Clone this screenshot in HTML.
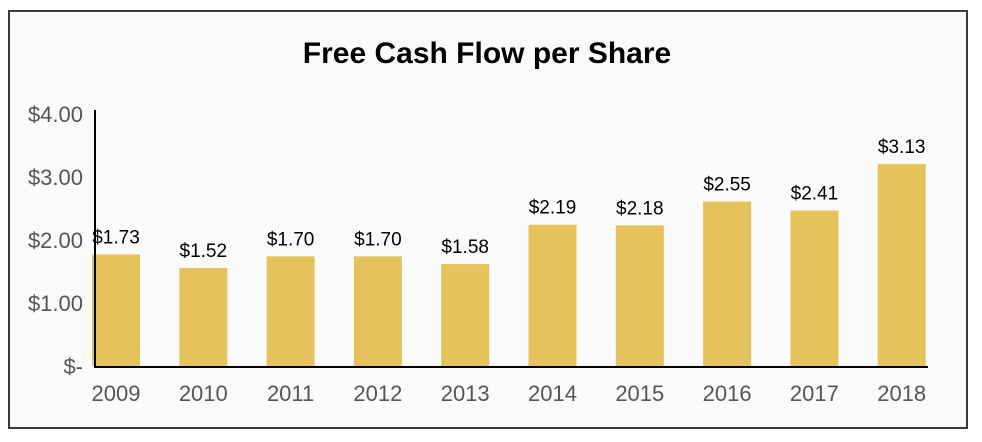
<!DOCTYPE html>
<html><head><meta charset="utf-8"><style>
html,body{margin:0;padding:0;background:#fff;}
svg{display:block;font-family:"Liberation Sans",Arial,sans-serif;}
</style></head><body>
<svg id="chart" width="982" height="442" viewBox="0 0 982 442">
<rect x="9" y="11" width="958" height="417" fill="#fafafa" stroke="#3a3a3a" stroke-width="2"/>
<text x="487" y="63" text-anchor="middle" font-size="30" font-weight="bold" fill="#000">Free Cash Flow per Share</text>
<g id="bars"></g>
<g id="yticks"></g>
<g id="xticks"></g>
<line x1="95" y1="110" x2="95" y2="367" stroke="#000" stroke-width="2"/>
<line x1="94" y1="367" x2="928" y2="367" stroke="#000" stroke-width="2"/>
</svg>
<script>
const categories=["2009","2010","2011","2012","2013","2014","2015","2016","2017","2018"];
const values=[1.73,1.52,1.70,1.70,1.58,2.19,2.18,2.55,2.41,3.13];
const valueLabels=["$1.73","$1.52","$1.70","$1.70","$1.58","$2.19","$2.18","$2.55","$2.41","$3.13"];
const tickValues=[0,1,2,3,4];
const tickLabels=["$-","$1.00","$2.00","$3.00","$4.00"];
const NS="http://www.w3.org/2000/svg";
const y0=366, unit=64.5, x0=92, step=87.3, bw=48;
function y(v){return y0-v*unit;}
function xl(i){return x0+i*step;}
function mk(tag,attrs,parent){const e=document.createElementNS(NS,tag);for(const k in attrs)e.setAttribute(k,attrs[k]);parent.appendChild(e);return e;}
const bars=document.getElementById('bars'),yt=document.getElementById('yticks'),xt=document.getElementById('xticks');
values.forEach((v,i)=>{
  const r=mk('rect',{x:xl(i),y:y(v),width:bw,height:v*unit,fill:'#e6c25c'},bars);
  
  
  const t=mk('text',{x:xl(i)+bw/2,y:y(v)-11,'text-anchor':'middle','font-size':'19',fill:'#000'},bars);
  t.textContent=valueLabels[i];
  
  
  const c=mk('text',{x:xl(i)+bw/2,y:401,'text-anchor':'middle','font-size':'22',fill:'#555'},xt);
  c.textContent=categories[i];
  
  
});
tickValues.forEach((v,i)=>{
  const t=mk('text',{x:83,y:y(v)+8+(v*1.5),'text-anchor':'end','font-size':'22',fill:'#555'},yt);
  t.textContent=tickLabels[i];
  
  
});
</script>
</body></html>
